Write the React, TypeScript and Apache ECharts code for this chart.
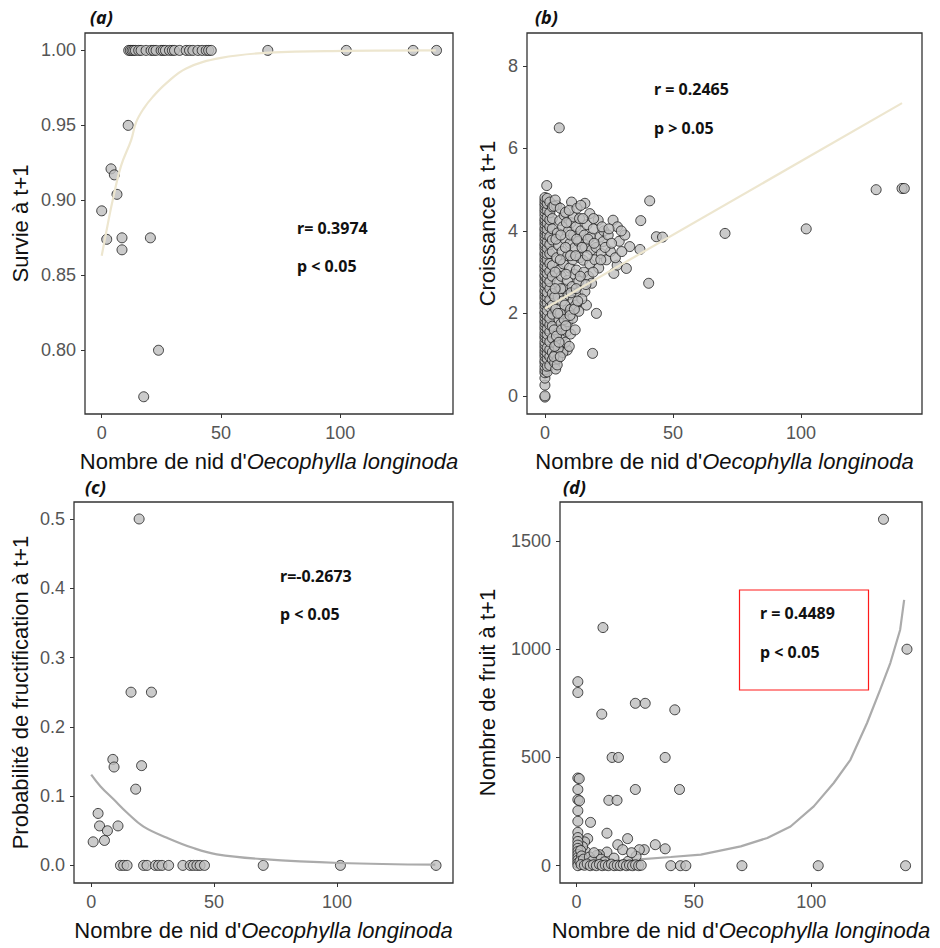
import React, { useEffect, useRef } from "react";
import * as echarts from "echarts";

const X_TICKS = [0, 50, 100];
const X_MIN = -7;
const X_MAX = 147.2;

// (a) Survie à t+1
const survivalOnesX = [11.3, 12.0, 12.7, 13.4, 14.1, 15.5, 16.5, 18.6, 20.7, 21.7, 22.8, 24.9, 25.8, 26.7, 28.4, 29.6, 30.5, 32.6, 35.4, 36.8, 38.2, 40.3, 42.1, 43.8, 44.8, 45.9, 69.6, 102.5, 130.5, 140.3];
const survivalOther = [
  [0, 0.893], [2.1, 0.874], [3.9, 0.921], [5.3, 0.917], [6.4, 0.904],
  [8.5, 0.875], [8.5, 0.867], [11.1, 0.95], [20.4, 0.875], [23.8, 0.8], [17.6, 0.769],
];
const survivalFit = [
  [0, 0.863], [1.8, 0.878], [4.6, 0.9], [8.1, 0.923], [12.3, 0.94], [14.4, 0.952], [17.5, 0.961],
  [21.4, 0.969], [27, 0.978], [35.4, 0.988], [50, 0.995], [70, 0.9985], [102, 0.9997], [140, 1.0],
];
const survivalTicks = [0.8, 0.85, 0.9, 0.95, 1.0];

// (b) Croissance à t+1
const growthAtZero = [-0.03, 0.0, 0.26, 0.43, 0.56, 0.63, 0.71, 0.8, 0.86, 0.95, 1.02, 1.09, 1.17, 1.24, 1.31, 1.4, 1.46, 1.53, 1.62, 1.69, 1.77, 1.83, 1.91, 1.99, 2.04, 2.13, 2.21, 2.27, 2.36, 2.43, 2.51, 2.57, 2.66, 2.73, 2.8, 2.89, 2.94, 3.03, 3.11, 3.17, 3.26, 3.33, 3.41, 3.47, 3.56, 3.63, 3.69, 3.78, 3.86, 3.93, 4.01, 4.07, 4.16, 4.23, 4.29, 4.38, 4.46, 4.53, 4.61, 4.67, 4.74, 4.81];
const growthAtOne = [0.58, 0.72, 0.9, 1.03, 1.17, 1.36, 1.49, 1.63, 1.8, 1.94, 2.07, 2.25, 2.39, 2.51, 2.7, 2.84, 2.97, 3.12, 3.3, 3.44, 3.58, 3.73, 3.9, 4.04, 4.19, 4.33, 4.5, 4.66, 4.79];
const growthAtTwo = [0.74, 0.95, 1.12, 1.31, 1.55, 1.72, 1.88, 2.15, 2.33, 2.6, 2.77, 3.02, 3.21, 3.45, 3.67, 3.86, 4.1, 4.27, 4.44, 4.7];
const growthAtThree = [0.88, 1.06, 1.4, 1.69, 1.98, 2.2, 2.48, 2.9, 3.16, 3.5, 3.78, 4.05, 4.3, 4.58];
const growthCloud = [
  [4, 1.0], [4.5, 1.25], [5, 1.52], [5.5, 1.85], [4.2, 2.1], [5.2, 2.4], [4.8, 2.75], [5.6, 3.05], [4.6, 3.35], [5.3, 3.65], [4.9, 3.95], [5.8, 4.25], [4.5, 4.62],
  [6.5, 1.1], [7, 1.45], [6.3, 1.75], [7.4, 2.0], [6.8, 2.3], [7.6, 2.6], [6.4, 2.9], [7.2, 3.2], [6.7, 3.5], [7.8, 3.8], [6.9, 4.1], [7.5, 4.38],
  [8.7, 1.11], [8.5, 1.56], [9, 1.8], [8.6, 2.08], [9.3, 2.45], [8.8, 2.8], [9.6, 3.1], [8.9, 3.4], [9.8, 3.7], [9.2, 4.0], [10.2, 4.2],
  [10.8, 1.88], [11, 2.32], [10.6, 2.65], [11.4, 2.95], [10.9, 3.3], [11.7, 3.6], [11.2, 3.9], [12.1, 4.1], [10.4, 4.7], [11, 4.34],
  [12.3, 3.05], [12.8, 2.5], [13.2, 2.78], [13.6, 3.35], [13, 3.75], [14, 4.0], [13.5, 4.3],
  [14.9, 3.29], [15.6, 2.53], [15.2, 3.0], [15.8, 3.6], [16.2, 2.2], [15.4, 3.9], [16.4, 4.15], [15.6, 4.67],
  [17, 2.9], [17.5, 3.2], [18.2, 3.54], [18.2, 2.73], [17.8, 3.85], [17.5, 4.42], [18.6, 1.03], [18.9, 4.05],
  [19.5, 3.3], [20.1, 2.0], [20, 3.6], [20.8, 4.26], [21, 3.1], [21.5, 3.85], [22.7, 3.74], [22, 3.45], [23, 4.0],
  [24.7, 3.9], [24, 3.3], [25.6, 3.5], [26.6, 4.26], [26.9, 2.97], [28.2, 3.17], [28.3, 4.1], [29, 3.75],
  [31.2, 3.9], [31.8, 3.09], [33.1, 3.62], [37.1, 3.55], [37.4, 4.25], [40.5, 2.73], [40.9, 4.73], [43.5, 3.86], [45.9, 3.85],
  [3.5, 4.6], [4, 4.75], [6, 4.55], [8, 4.45], [9.5, 4.5], [12.5, 4.55], [14, 4.62], [3.8, 0.8], [4.2, 0.65], [5, 0.9],
  [6, 1.25], [3.6, 1.6], [3.8, 2.4], [4, 3.0], [4.3, 3.8], [6, 2.0], [6.2, 2.6], [6, 3.3], [6.2, 3.9], [8, 1.3],
  [7.8, 2.2], [8.2, 2.95], [8, 3.6], [8.4, 4.2], [10, 1.5], [10, 2.1], [10.2, 2.5], [10, 3.4], [10, 3.9], [12, 2.2],
  [12.2, 2.6], [12, 3.4], [12.4, 3.8], [13.8, 2.9], [14.5, 3.6], [14.8, 4.3], [16.5, 3.4], [16.8, 3.8], [16, 2.7],
  [18.8, 3.0], [19.2, 3.7], [19, 4.3], [21.8, 3.3], [22.3, 4.1], [23.5, 3.6], [25, 4.05], [26, 3.7], [27.5, 3.35],
  [30, 3.5], [29.8, 4.0], [7, 1.05], [9.5, 1.2], [5.2, 1.15], [11.8, 1.6], [13.2, 2.05], [14.4, 2.35],
  [3.8, 1.2], [4.5, 1.45], [5.5, 1.3], [6.5, 1.6], [7.5, 1.85], [8.2, 1.7], [9.8, 1.95], [11.5, 2.1], [12.8, 2.3],
  [5, 2.0], [4, 2.6], [3.5, 0.95], [4.8, 0.75], [6, 0.95],
  [5.6, 6.5], [0.7, 5.1], [70.3, 3.94], [102, 4.05], [129.3, 5.0], [139.4, 5.03], [140.3, 5.03],
];
const growthFit = [[0, 2.12], [139.4, 7.1]];
const growthTicks = [0, 2, 4, 6, 8];

// (c) Probabilité de fructification à t+1
const fruitingProb = [
  [19.5, 0.5], [16.2, 0.25], [24.5, 0.25], [8.8, 0.153], [9.3, 0.142], [20.5, 0.144], [18.1, 0.11],
  [2.8, 0.075], [3.4, 0.057], [10.9, 0.057], [6.6, 0.05], [5.4, 0.036], [0.8, 0.034],
  [11.9, 0], [13.2, 0], [14.6, 0], [21.3, 0], [22.7, 0], [26.1, 0], [27.4, 0], [28.8, 0], [31.5, 0],
  [37.3, 0], [40.3, 0], [41.6, 0], [43, 0], [44.3, 0], [46.1, 0], [70, 0], [101.4, 0], [140.3, 0],
];
const fruitingFit = [
  [0, 0.131], [3.8, 0.114], [9.2, 0.095], [14.6, 0.076], [21.3, 0.056], [30.8, 0.04],
  [41.6, 0.025], [51.1, 0.016], [70, 0.009], [101, 0.0035], [140, 0.001],
];
const fruitingTicks = [0, 0.1, 0.2, 0.3, 0.4, 0.5];

// (d) Nombre de fruit à t+1
const fruitCount = [
  [130.8, 1600], [140.8, 1000], [140.2, 0], [103, 0], [70.5, 0], [40.2, 0], [44.3, 0], [46.6, 0],
  [11.3, 1100], [0.6, 850], [0.6, 800], [10.8, 700], [25.1, 750], [29.3, 750], [41.9, 720],
  [15.2, 500], [17.9, 500], [37.8, 500], [25.1, 352], [43.9, 352], [13.8, 302], [17.3, 302],
  [0.6, 405], [1.2, 402], [0.6, 352], [0.6, 305], [1.3, 300], [0.6, 254], [0.6, 205], [6, 200],
  [0.6, 154], [13, 150], [4.8, 125], [21.8, 125], [17.6, 97], [33.6, 97], [37.8, 78], [28.9, 74],
  [26.8, 74], [19.7, 74], [25.4, 43], [13, 63], [9.8, 51], [8.7, 48], [3.5, 110], [4, 65], [2.6, 88],
  [0.6, 130], [0.6, 112], [0.6, 95], [0.6, 80], [0.6, 66], [0.6, 52], [0.6, 38], [0.6, 25], [0.6, 12], [0.6, 0],
  [1.8, 70], [2.2, 45], [1.5, 20], [3, 30], [5.5, 40], [6.8, 22], [7.5, 60], [10.5, 30], [12, 18], [16, 35], [22, 20], [23.5, 60],
  [2, 5], [3.4, 2], [4.6, 8], [5.9, 0], [7.2, 4], [8.5, 0], [9.8, 6], [11, 0], [12.3, 3], [13.6, 0], [14.9, 7],
  [16.1, 0], [17.4, 2], [18.7, 0], [20, 5], [21.3, 0], [22.6, 3], [23.9, 0], [25.2, 4], [26.5, 0], [27.6, 2],
];
const fruitFit = [
  [0, 10], [25.4, 28], [40.2, 40], [53, 51], [70, 89], [81.3, 128], [91.2, 181], [101.1, 274],
  [109.6, 382], [116.7, 489], [123.8, 659], [129.4, 813], [133.7, 936], [137.9, 1090], [139.6, 1228],
];
const fruitTicks = [0, 500, 1000, 1500];

const SANS = "'Liberation Sans', Arial, sans-serif";
const NOTE = "'Noto Sans', 'Open Sans', sans-serif";

const grids = [
  { left: 85, top: 33, width: 368, height: 381 },
  { left: 527, top: 33, width: 395, height: 381 },
  { left: 74, top: 502, width: 379, height: 381 },
  { left: 560, top: 502, width: 362, height: 381 },
];

const tickStyle = { show: true, inside: false, length: 4, lineStyle: { color: "#333", width: 1 } };

function makeX(i: number) {
  return {
    type: "value",
    gridIndex: i,
    min: X_MIN,
    max: X_MAX,
    axisLine: { show: false, onZero: false },
    splitLine: { show: false },
    axisTick: { ...tickStyle, customValues: X_TICKS },
    axisLabel: { customValues: X_TICKS, color: "#555", fontSize: 18, fontFamily: SANS, margin: 10 },
    name: "Nombre de nid d'{i|Oecophylla longinoda}",
    nameLocation: "middle",
    nameGap: 36,
    nameTextStyle: {
      color: "#111",
      fontSize: 22,
      fontFamily: SANS,
      rich: { i: { fontStyle: "italic", fontSize: 22, color: "#111", fontFamily: SANS } },
    },
  };
}

function makeY(i: number, min: number, max: number, ticks: number[], digits: number, name: string, gap: number) {
  return {
    type: "value",
    gridIndex: i,
    min,
    max,
    axisLine: { show: false, onZero: false },
    splitLine: { show: false },
    axisTick: { ...tickStyle, customValues: ticks },
    axisLabel: {
      customValues: ticks,
      color: "#555",
      fontSize: 18,
      fontFamily: SANS,
      margin: 9,
      formatter: (v: number) => v.toFixed(digits),
    },
    name,
    nameLocation: "middle",
    nameRotate: 90,
    nameGap: gap,
    nameTextStyle: { color: "#111", fontSize: 22, fontFamily: SANS },
  };
}

const pointStyle = { color: "#BEBEBE", borderColor: "#1a1a1a", borderWidth: 1 };

function points(i: number, data: number[][], z = 3) {
  return {
    type: "scatter",
    xAxisIndex: i,
    yAxisIndex: i,
    data,
    symbol: "circle",
    symbolSize: 10,
    itemStyle: pointStyle,
    z,
    silent: true,
  };
}

function fitLine(i: number, data: number[][], color: string, z: number, smooth: number | boolean) {
  return {
    type: "line",
    xAxisIndex: i,
    yAxisIndex: i,
    data,
    showSymbol: false,
    smooth,
    lineStyle: { color, width: 2.2 },
    z,
    silent: true,
  };
}

function note(text: string, x: number, y: number) {
  return {
    type: "text",
    x,
    y,
    style: { text, fontFamily: NOTE, fontWeight: "bold", fontSize: 16, fill: "#111", verticalAlign: "middle", align: "left" },
  };
}

function panelTag(text: string, x: number, y: number) {
  return {
    type: "text",
    x,
    y,
    style: { text, fontFamily: NOTE, fontWeight: "bold", fontStyle: "italic", fontSize: 18, fill: "#111", verticalAlign: "middle", align: "left" },
  };
}

const columnPoints = (x: number, ys: number[]) => ys.map((y) => [x, y]);

export default function App() {
  const ref = useRef<HTMLDivElement>(null);

  useEffect(() => {
    document.body.style.margin = "0";
    const chart = echarts.init(ref.current!, null, { renderer: "svg" });

    const survivalPoints = [...survivalOnesX.map((x) => [x, 1.0]), ...survivalOther];
    const growthPoints = [
      ...columnPoints(0, growthAtZero),
      ...columnPoints(0.9, growthAtOne),
      ...columnPoints(1.9, growthAtTwo),
      ...columnPoints(2.9, growthAtThree),
      ...growthCloud,
    ];

    chart.setOption({
      animation: false,
      backgroundColor: "#fff",
      grid: grids.map((g) => ({ ...g, show: true, borderColor: "#333", borderWidth: 1.3, backgroundColor: "transparent" })),
      xAxis: [0, 1, 2, 3].map(makeX),
      yAxis: [
        makeY(0, 0.7575, 1.0116, survivalTicks, 2, "Survie à t+1", 54),
        makeY(1, -0.44, 8.8, growthTicks, 0, "Croissance à t+1", 29),
        makeY(2, -0.0254, 0.5245, fruitingTicks, 1, "Probabilité de fructification à t+1", 43),
        makeY(3, -80, 1680, fruitTicks, 0, "Nombre de fruit à t+1", 62),
      ],
      series: [
        points(0, survivalPoints),
        fitLine(0, survivalFit, "#EDE6CF", 4, 0.4),
        points(1, growthPoints),
        fitLine(1, growthFit, "#EDE6CF", 4, false),
        points(2, fruitingProb),
        fitLine(2, fruitingFit, "#ABABAB", 4, 0.4),
        fitLine(3, fruitFit, "#ABABAB", 2, false),
        points(3, fruitCount, 3),
      ],
      graphic: [
        panelTag("(a)", 90, 17),
        panelTag("(b)", 535, 17),
        panelTag("(c)", 85, 487),
        panelTag("(d)", 563, 487),
        note("r= 0.3974", 297, 228),
        note("p < 0.05", 297, 266),
        note("r = 0.2465", 654, 89),
        note("p > 0.05", 654, 128),
        note("r=-0.2673", 280, 576),
        note("p < 0.05", 280, 614),
        {
          type: "rect",
          shape: { x: 739.5, y: 590, width: 129, height: 100 },
          style: { fill: "none", stroke: "#FF1A1A", lineWidth: 1.2 },
        },
        note("r = 0.4489", 760, 613),
        note("p < 0.05", 760, 652),
      ],
    });

    return () => chart.dispose();
  }, []);

  return <div ref={ref} style={{ width: 940, height: 948 }} />;
}
